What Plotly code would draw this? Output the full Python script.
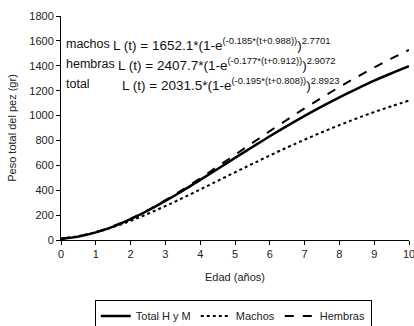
import plotly.graph_objects as go

edad = [0, 0.5, 1, 1.5, 2, 2.5, 3, 3.5, 4, 4.5, 5, 5.5, 6, 6.5, 7, 7.5, 8, 8.5, 9, 9.5, 10]
total = [8, 27, 61, 108, 167, 237, 314, 396, 483, 571, 660, 747, 834, 917, 997, 1074, 1147, 1215, 1280, 1340, 1397]
machos = [12, 32, 63, 104, 154, 211, 273, 338, 406, 475, 544, 612, 679, 744, 806, 866, 923, 977, 1028, 1075, 1120]
hembras = [10, 30, 64, 112, 171, 241, 320, 406, 496, 590, 685, 780, 875, 967, 1058, 1145, 1229, 1309, 1386, 1459, 1527]

FONT = "Arial, Liberation Sans, sans-serif"

fig = go.Figure()
fig.add_trace(go.Scatter(x=edad, y=total, mode="lines", name="Total H y M",
                         line=dict(color="black", width=2.5, shape="spline")))
fig.add_trace(go.Scatter(x=edad, y=machos, mode="lines", name="Machos",
                         line=dict(color="black", width=2, dash="dot", shape="spline")))
fig.add_trace(go.Scatter(x=edad, y=hembras, mode="lines", name="Hembras",
                         line=dict(color="black", width=2, dash="dash", shape="spline")))

labels = ["machos", "hembras", "total"]
eqs = [
    "L (t) = 1652.1*(1-e<sup>(-0.185*(t+0.988))</sup>)<sup>2.7701</sup>",
    "L (t) = 2407.7*(1-e<sup>(-0.177*(t+0.912))</sup>)<sup>2.9072</sup>",
    "L (t) = 2031.5*(1-e<sup>(-0.195*(t+0.808))</sup>)<sup>2.8923</sup>",
]
ys = [1575, 1413, 1252]
eq_x = [1.51, 1.67, 1.78]
for lab, eq, yv, ex in zip(labels, eqs, ys, eq_x):
    fig.add_annotation(x=0.17, y=yv, xref="x", yref="y", text=lab, showarrow=False,
                       xanchor="left", yanchor="middle", xshift=-3,
                       font=dict(family=FONT, size=12.5, color="#111"))
    fig.add_annotation(x=ex, y=yv, xref="x", yref="y", text=eq, showarrow=False,
                       xanchor="left", yanchor="middle", xshift=-3,
                       font=dict(family=FONT, size=13.5, color="#111"))

fig.update_layout(
    width=414, height=326,
    margin=dict(l=61, r=5, t=16, b=86, autoexpand=False),
    paper_bgcolor="white", plot_bgcolor="white",
    font=dict(family=FONT, size=11, color="#222"),
    showlegend=True,
    legend=dict(orientation="h", x=0.495, xanchor="center", y=-0.27, yanchor="top",
                bordercolor="black", borderwidth=1, font=dict(size=11, family=FONT),
                itemwidth=30, tracegroupgap=0),
)
fig.update_xaxes(range=[0, 10], tickmode="linear", dtick=1, showgrid=False, zeroline=False,
                 showline=True, linecolor="black", linewidth=1, ticks="outside", ticklen=4,
                 tickcolor="black", tickfont=dict(size=11, family=FONT), automargin=False,
                 ticklabeloverflow="allow",
                 title=dict(text="Edad (años)", font=dict(size=11, family=FONT), standoff=14))
fig.update_yaxes(range=[0, 1800], tickmode="linear", dtick=200, showgrid=False, zeroline=False,
                 showline=True, linecolor="black", linewidth=1, ticks="outside", ticklen=4,
                 tickcolor="black", tickfont=dict(size=11, family=FONT), automargin=False,
                 title=dict(text="Peso total del pez (gr)", font=dict(size=11, family=FONT), standoff=10))

fig.write_html("out.html")
